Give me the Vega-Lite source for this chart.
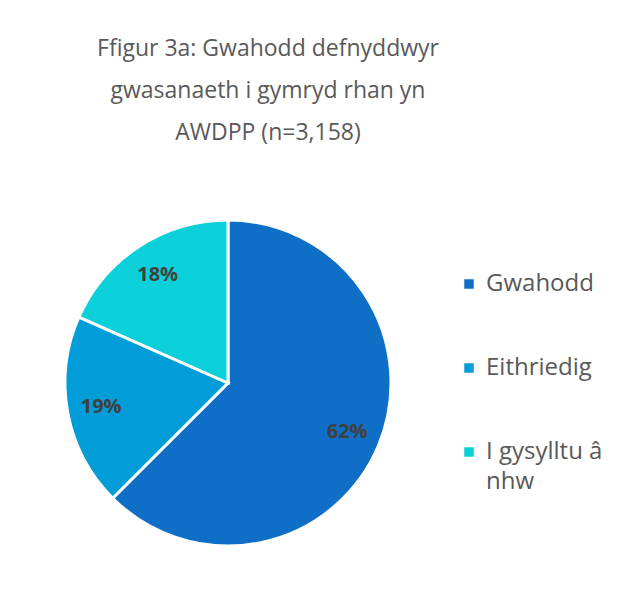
{
  "$schema": "https://vega.github.io/schema/vega-lite/v6.json",
  "width": 326,
  "height": 326,
  "autosize": {"type": "none"},
  "padding": {"left": 65, "top": 220, "right": 232, "bottom": 66},
  "background": "white",
  "config": {"style": {"guide-label": {"lineHeight": 30}}},
  "title": {
    "text": ["Ffigur 3a: Gwahodd defnyddwyr", "gwasanaeth i gymryd rhan yn", "AWDPP (n=3,158)"],
    "font": "Open Sans",
    "fontSize": 23,
    "fontWeight": "normal",
    "color": "#595959",
    "lineHeight": 42,
    "anchor": "middle",
    "dx": 40,
    "offset": 69
  },
  "data": {
    "values": [
      {"category": "Gwahodd", "value": 1974, "label": "62%", "idx": 1},
      {"category": "Eithriedig", "value": 604, "label": "19%", "idx": 2},
      {"category": "I gysylltu â nhw", "value": 580, "label": "18%", "idx": 3}
    ]
  },
  "encoding": {
    "theta": {"field": "value", "type": "quantitative", "stack": true},
    "order": {"field": "idx", "type": "quantitative"}
  },
  "layer": [
    {
      "mark": {"type": "arc", "outerRadius": 163, "stroke": "white", "strokeWidth": 3},
      "encoding": {
        "color": {
          "field": "category",
          "type": "nominal",
          "scale": {
            "domain": ["Gwahodd", "Eithriedig", "I gysylltu â nhw"],
            "range": ["#0F6FC6", "#009DD9", "#0BD0D9"]
          },
          "legend": {
            "title": null,
            "orient": "none",
            "legendX": 392,
            "legendY": 52,
            "symbolType": "square",
            "symbolSize": 90,
            "symbolStrokeWidth": 0,
            "labelFont": "Open Sans",
            "labelFontSize": 24,
            "labelColor": "#595959",
            "labelOffset": 5,
            "labelLimit": 300,
            "rowPadding": 60,
            "labelExpr": "datum.label == 'I gysylltu â nhw' ? ['I gysylltu â', 'nhw'] : datum.label",
            "encode": {"labels": {"enter": {"lineHeight": {"value": 30}}, "update": {"lineHeight": {"value": 30}}}}
          }
        }
      }
    },
    {
      "mark": {"type": "text", "radius": 129, "font": "Open Sans", "fontSize": 20, "fontWeight": "bold", "color": "#404040"},
      "encoding": {
        "text": {"field": "label", "type": "nominal"}
      }
    }
  ]
}
